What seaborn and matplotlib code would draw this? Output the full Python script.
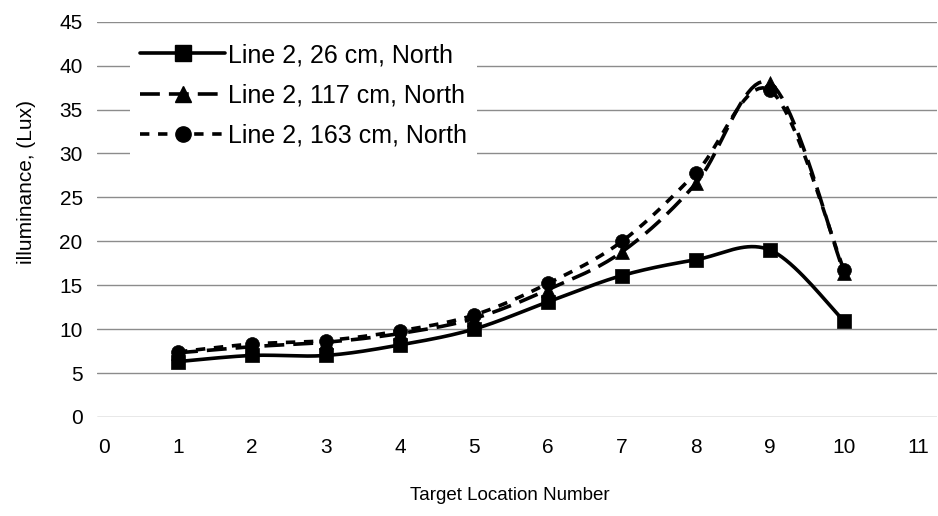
import numpy as np
import pandas as pd
import seaborn as sns
import matplotlib
matplotlib.use("Agg")
import matplotlib.pyplot as plt
from matplotlib.lines import Line2D

# ---- data ----
locations = [1, 2, 3, 4, 5, 6, 7, 8, 9, 10]
line_26 = [6.3, 7.0, 7.0, 8.2, 10.0, 13.1, 16.1, 17.9, 19.0, 10.9]
line_117 = [7.3, 8.0, 8.5, 9.5, 11.2, 14.5, 18.8, 26.6, 38.0, 16.4]
line_163 = [7.4, 8.3, 8.7, 9.8, 11.6, 15.2, 20.0, 27.8, 37.2, 16.7]
series_names = ["Line 2, 26 cm, North", "Line 2, 117 cm, North", "Line 2, 163 cm, North"]
x_ticks = list(range(0, 12))
y_ticks = list(range(0, 50, 5))

sns.set_theme(style="white")
plt.rcParams['font.family'] = ['Liberation Sans', 'DejaVu Sans']
plt.rcParams['text.color'] = 'black'
plt.rcParams['axes.labelcolor'] = 'black'
plt.rcParams['xtick.color'] = 'black'
plt.rcParams['ytick.color'] = 'black'

def smooth(xs, ys, n=20):
    # Bezier rendering of the polyline (like a spreadsheet "smoothed line")
    xs = np.asarray(xs, float); ys = np.asarray(ys, float)
    P = np.column_stack([xs, ys])
    P = np.vstack([P[0], P, P[-1]])
    out = []
    for i in range(1, len(P) - 2):
        p0, p1, p2, p3 = P[i-1], P[i], P[i+1], P[i+2]
        c1 = p1 + (p2 - p0) / 6.0
        c2 = p2 - (p3 - p1) / 6.0
        t = np.linspace(0, 1, n, endpoint=False)[:, None]
        b = ((1-t)**3)*p1 + 3*((1-t)**2)*t*c1 + 3*(1-t)*t**2*c2 + t**3*p2
        out.append(b)
    out.append(P[-2][None, :])
    out = np.vstack(out)
    return out[:, 0], out[:, 1]

fig = plt.figure(figsize=(9.38, 5.16), dpi=100)
ax = fig.add_axes([0.103, 0.192, 0.8955, 0.766])

styles = [
    dict(marker="s", dashes=None, ms=10),
    dict(marker="^", dashes=(5.5, 2.5), ms=10),
    dict(marker="o", dashes=(2.6, 2.4), ms=10),
]
all_series = [line_26, line_117, line_163]
handles = []
for name, vals, st in zip(series_names, all_series, styles):
    sx, sy = smooth(locations, vals)
    d = pd.DataFrame({"x": sx, "y": sy})
    sns.lineplot(data=d, x="x", y="y", ax=ax, color="black", lw=2.6, sort=False)
    ln = ax.lines[-1]
    if st["dashes"] is not None:
        ln.set_dashes(st["dashes"])
    pts = pd.DataFrame({"x": locations, "y": vals})
    sns.scatterplot(data=pts, x="x", y="y", ax=ax, marker=st["marker"], color="black",
                    s=st["ms"]**2, edgecolor="black", linewidth=0.5, zorder=5)
    h = Line2D([0], [0], color="black", lw=2.6, marker=st["marker"], ms=st["ms"] + 1)
    if st["dashes"] is not None:
        h.set_dashes(st["dashes"])
    handles.append(h)

ax.set_xlim(-0.1, 11.25)
ax.set_ylim(0, 45)
ax.set_xticks(x_ticks)
ax.set_yticks(y_ticks)
ax.tick_params(axis="y", labelsize=15, length=0, pad=10, labelcolor="black")
ax.tick_params(axis="x", labelsize=15, length=0, pad=15, labelcolor="black")
ax.yaxis.grid(True, color="#8c8c8c", lw=1.0)
ax.xaxis.grid(False)
for s in ax.spines.values():
    s.set_visible(False)
ax.set_xlabel("Target Location Number", fontsize=13.5, color="black")
ax.xaxis.set_label_coords((510 - 96.6) / 840, (417 - 487) / 395)
ax.set_ylabel("illuminance, (Lux)", fontsize=15, color="black")
ax.yaxis.set_label_coords((36 - 96.6) / 840, (417 - 182) / 395)

leg = ax.legend(handles, series_names, loc="upper left",
                bbox_to_anchor=(130 / 938, 1 - 33 / 516), bbox_transform=fig.transFigure,
                borderaxespad=0, fontsize=18, frameon=True, fancybox=False,
                handlelength=3.4, borderpad=0.4, labelspacing=0.66, handletextpad=0.1)
leg.get_frame().set_edgecolor("white")
leg.get_frame().set_linewidth(0.0)
leg.get_frame().set_alpha(1)
for t in leg.get_texts():
    t.set_color("black")

fig.savefig("out.png", dpi=100)
